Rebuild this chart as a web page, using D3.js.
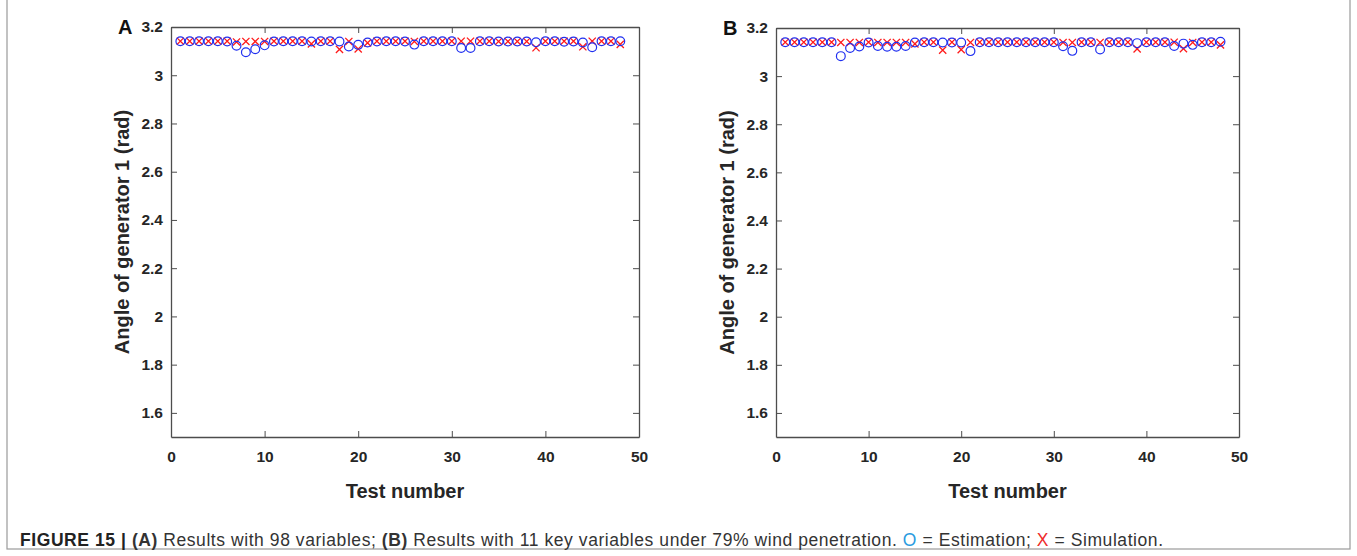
<!DOCTYPE html>
<html><head><meta charset="utf-8">
<script src="https://cdn.jsdelivr.net/npm/d3@7"></script>
<style>body{margin:0;background:#fff}svg{display:block}</style>
</head><body>
<svg id="chart" width="1357" height="556"></svg>
<script>
// ---- data ----
const tests = [1,2,3,4,5,6,7,8,9,10,11,12,13,14,15,16,17,18,19,20,21,22,23,24,25,26,27,28,29,30,31,32,33,34,35,36,37,38,39,40,41,42,43,44,45,46,47,48];
const estimationA = [3.141,3.141,3.141,3.141,3.141,3.140,3.122,3.095,3.108,3.124,3.140,3.141,3.141,3.141,3.140,3.141,3.141,3.140,3.119,3.126,3.136,3.140,3.141,3.141,3.140,3.127,3.141,3.141,3.141,3.141,3.113,3.113,3.141,3.141,3.140,3.140,3.140,3.140,3.137,3.141,3.141,3.139,3.140,3.136,3.116,3.141,3.141,3.141];
const simulationA = [3.141,3.141,3.141,3.141,3.141,3.141,3.138,3.140,3.140,3.140,3.141,3.141,3.141,3.141,3.130,3.141,3.141,3.107,3.140,3.109,3.134,3.141,3.141,3.141,3.141,3.140,3.141,3.141,3.141,3.141,3.141,3.141,3.141,3.141,3.140,3.140,3.140,3.140,3.114,3.141,3.141,3.141,3.141,3.118,3.141,3.141,3.141,3.128];
const estimationB = [3.141,3.141,3.141,3.141,3.141,3.141,3.083,3.117,3.123,3.140,3.125,3.122,3.122,3.125,3.140,3.141,3.141,3.140,3.140,3.140,3.104,3.141,3.141,3.141,3.141,3.141,3.141,3.141,3.141,3.141,3.124,3.105,3.141,3.141,3.111,3.141,3.141,3.141,3.137,3.141,3.141,3.141,3.125,3.135,3.130,3.141,3.141,3.143];
const simulationB = [3.141,3.141,3.141,3.141,3.141,3.141,3.140,3.140,3.140,3.141,3.140,3.140,3.140,3.140,3.134,3.141,3.141,3.108,3.141,3.110,3.140,3.141,3.141,3.141,3.141,3.141,3.141,3.141,3.141,3.141,3.140,3.140,3.141,3.141,3.140,3.141,3.141,3.141,3.113,3.141,3.141,3.141,3.141,3.114,3.140,3.141,3.141,3.130];
const xTicks = [0,10,20,30,40,50];
const yTicks = [1.6,1.8,2,2.2,2.4,2.6,2.8,3,3.2];
const xDomain = [0,50];
const yDomain = [1.5,3.2];
const panelLabels = ["A","B"];
const xTitle = "Test number";
const yTitle = "Angle of generator 1 (rad)";

const svg = d3.select("#chart");
const FONT = "'Liberation Sans', Arial, Helvetica, sans-serif";
const AX = "#4d4d4d";

// outer frame
svg.append("rect").attr("x",7).attr("y",-2).attr("width",1343).attr("height",551)
  .attr("fill","none").attr("stroke","#9a9a9a").attr("stroke-width",1.2);

function panel(box, est, sim, label){
  const x = d3.scaleLinear().domain(xDomain).range([box.l, box.r]);
  const y = d3.scaleLinear().domain(yDomain).range([box.b, box.t]);
  const g = svg.append("g");

  const fmtY = d => d3.format("")(d);
  const ax = [
    {a: d3.axisBottom(x).tickValues(xTicks).tickSizeInner(-6).tickSizeOuter(0).tickPadding(14), tr:`translate(0,${box.b})`},
    {a: d3.axisTop(x).tickValues(xTicks).tickSizeInner(-6).tickSizeOuter(0).tickFormat(""), tr:`translate(0,${box.t})`},
    {a: d3.axisLeft(y).tickValues(yTicks).tickSizeInner(-6).tickSizeOuter(0).tickPadding(8).tickFormat(fmtY), tr:`translate(${box.l},0)`},
    {a: d3.axisRight(y).tickValues(yTicks).tickSizeInner(-6).tickSizeOuter(0).tickFormat(""), tr:`translate(${box.r},0)`}
  ];
  ax.forEach(o=>{
    const gg = g.append("g").attr("transform",o.tr).call(o.a);
    gg.select(".domain").attr("stroke",AX).attr("stroke-width",1.3);
    gg.selectAll(".tick line").attr("stroke",AX).attr("stroke-width",1);
    gg.selectAll(".tick text").attr("fill","#262626").attr("font-family",FONT)
      .attr("font-size",15.5).attr("font-weight","bold");
  });

  const s = 3.6;
  g.append("g").selectAll("path").data(tests).join("path")
    .attr("d",(t,i)=>{const cx=x(t), cy=y(sim[i]);
      return `M${cx-s},${cy-s}L${cx+s},${cy+s}M${cx-s},${cy+s}L${cx+s},${cy-s}`;})
    .attr("stroke","#ff1a1a").attr("stroke-width",1.3).attr("fill","none");
  g.append("g").selectAll("circle").data(tests).join("circle")
    .attr("cx",t=>x(t)).attr("cy",(t,i)=>y(est[i])).attr("r",4.4)
    .attr("fill","none").attr("stroke","#1f2ff0").attr("stroke-width",1.2);

  g.append("text").attr("x",(box.l+box.r)/2).attr("y",box.b+61).attr("text-anchor","middle")
    .attr("font-family",FONT).attr("font-weight","bold").attr("font-size",20).attr("fill","#262626").text(xTitle);
  g.append("text").attr("transform",`translate(${box.l-42},${(box.t+box.b)/2}) rotate(-90)`)
    .attr("text-anchor","middle").attr("font-family",FONT).attr("font-weight","bold")
    .attr("font-size",20).attr("fill","#262626").text(yTitle);
  g.append("text").attr("x",box.l-53).attr("y",box.t+7).attr("font-family",FONT)
    .attr("font-weight","bold").attr("font-size",20).attr("fill","#111").text(label);
}

panel({l:171,r:639,t:27,b:437}, estimationA, simulationA, panelLabels[0]);
panel({l:776,r:1239,t:28,b:437}, estimationB, simulationB, panelLabels[1]);

// caption
const cap = svg.append("text").attr("x",20).attr("y",546).attr("font-family",FONT)
  .attr("font-size",17.5).attr("fill","#333")
  .attr("textLength",1143).attr("lengthAdjust","spacing");
const parts = [
  ["FIGURE 15 | ","bold","#222"],["(A)","bold","#333"],[" Results with 98 variables; ","normal","#333"],
  ["(B)","bold","#333"],[" Results with 11 key variables under 79% wind penetration. ","normal","#333"],
  ["O","normal","#2a9be0"],[" = Estimation; ","normal","#333"],["X","normal","#ee2a2a"],[" = Simulation.","normal","#333"]
];
parts.forEach(p=>cap.append("tspan").attr("font-weight",p[1]).attr("fill",p[2]).text(p[0]));
</script>
</body></html>
